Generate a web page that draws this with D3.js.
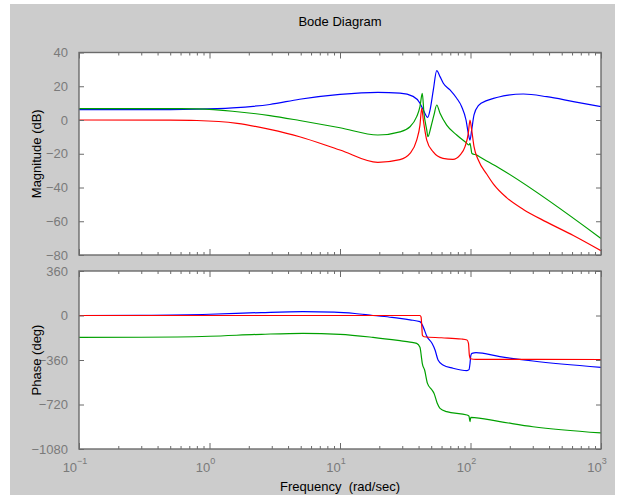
<!DOCTYPE html>
<html>
<head>
<meta charset="utf-8">
<script src="https://d3js.org/d3.v7.min.js"></script>
<style>
  body { margin: 0; background: #fff; }
  text { font-family: "Liberation Sans", Arial, Helvetica, sans-serif; }
</style>
</head>
<body>
<script>
// Bode diagram data: [frequency (rad/sec), value]
var blueMag = [[0.1, 6.2], [0.5, 6.2], [0.8, 6.4], [1.5, 7.2], [2.9, 9.2], [4.9, 12.3], [10, 15.2], [19.5, 16.4],
  [28.8, 15.9], [36.3, 14], [41, 9.9], [43.5, 5.9], [47, 1.6], [49, 6], [51.9, 17.8], [55.1, 29.3], [58.4, 25.7],
  [61.9, 21.8], [69.7, 17.8], [78.4, 12.9], [85.6, 7.9], [92.4, 0], [96.2, -7.9], [99.1, -11.9], [102.1, -5.9],
  [106.4, 3], [114.8, 8.5], [133, 11.5], [150, 12.8], [168, 13.8], [189, 14.6], [254, 15.4], [384, 13.8],
  [614, 10.9], [1000, 7.9]];

var greenMag = [[0.1, 6.8], [0.6, 6.8], [0.8, 6.6], [1.5, 5.2], [2.9, 2.6], [4.9, -0.3], [10, -4.6], [19.5, -8.9],
  [28.8, -7.0], [34.4, -4], [38.7, 2], [41, 7.9], [42.7, 15.8], [44, 4], [46.2, -5.9], [47.2, -9.9], [49.8, -4],
  [52.5, 3], [55.1, 8.9], [58.4, 4], [65.7, -3], [78.4, -8.9], [92.4, -13.4], [97.4, -14.8], [99.1, -13.8],
  [102.6, -19.8], [111.6, -20.8], [118, -21.9], [168, -28.7], [1000, -70.2]];

var redMag = [[0.1, 0], [0.5, -0.1], [0.8, -0.3], [1.63, -2], [2.9, -5.6], [4.9, -9.9], [10, -17.8], [19.5, -25.1],
  [28.8, -23.5], [34.4, -19.8], [38.7, -11.9], [41, -3], [42.3, 6.9], [43.5, 0], [46.2, -11.9], [51.6, -18.8],
  [61.5, -22.7], [73.4, -23.3], [83.1, -20.8], [90.8, -15.8], [96.2, -7.9], [99.1, 0], [102.1, -5.9],
  [106.4, -15.8], [114.8, -23.7], [133, -32], [150, -38], [189, -46], [254, -53], [384, -60.5],
  [614, -68.5], [1000, -77.5]];

var bluePhase = [[0.1, 0], [0.3, 2], [1, 10], [2.5, 24], [5.2, 31], [9, 27], [13, 16], [17.9, 0], [25, -15],
  [28.8, -23], [34.4, -35], [41, -50], [43.3, -90], [46.4, -171], [50.7, -225], [53.5, -279], [56.4, -360],
  [61.5, -400], [73.4, -427], [94, -446], [97.4, -438], [99.1, -390], [100.5, -325], [102.6, -306],
  [110.2, -301], [168, -333], [301, -368], [1000, -419]];

var greenPhase = [[0.1, -177], [0.3, -176], [1, -168], [2.5, -152], [5.2, -144], [10, -152], [17.9, -177],
  [28.8, -204], [34.4, -215], [38.7, -225], [41, -257], [42, -330], [42.7, -387], [44.5, -441], [46.8, -549],
  [50.7, -603], [52.5, -629], [55.6, -710], [58.4, -751], [65.7, -778], [94, -805], [97.4, -815], [99.1, -859],
  [100.5, -824], [168, -859], [301, -900], [1000, -950]];

var redPhase = [[0.1, 0], [41, 0], [41.8, -12], [42.3, -80], [42.8, -160], [44, -172], [60, -180], [85, -190],
  [94, -198], [96.5, -225], [98, -320], [100, -350], [110, -355], [1000, -356]];

var magTicks = [40, 20, 0, -20, -40, -60, -80];
var phaseTicks = [360, 0, -360, -720, -1080];
var decades = [0.1, 1, 10, 100, 1000];
var decadeExp = ["\u22121", "0", "1", "2", "3"];

var width = 624, height = 495;
var panelLeft = 79, panelRight = 601;

var svg = d3.select("body").append("svg")
  .attr("width", width)
  .attr("height", height);

// gray figure background
svg.append("rect")
  .attr("x", 10).attr("y", 4)
  .attr("width", 605).attr("height", 491)
  .attr("fill", "#cccccc");

var x = d3.scaleLog().domain([0.1, 1000]).range([panelLeft, panelRight]);
var yMag = d3.scaleLinear().domain([-80, 40]).range([255, 52.5]);
var yPh = d3.scaleLinear().domain([-1080, 360]).range([449, 271]);

// minor ticks 2..9 in each decade
var minors = [];
decades.slice(0, 4).forEach(function(d) {
  for (var k = 2; k <= 9; k++) minors.push(d * k);
});

function drawPanel(id, y, ticks, series) {
  var top = y.range()[1], bottom = y.range()[0];

  svg.append("rect")
    .attr("x", panelLeft).attr("y", top)
    .attr("width", panelRight - panelLeft).attr("height", bottom - top)
    .attr("fill", "#fff");

  svg.append("clipPath").attr("id", id)
    .append("rect")
    .attr("x", panelLeft).attr("y", top)
    .attr("width", panelRight - panelLeft).attr("height", bottom - top);

  var line = d3.line()
    .x(function(d) { return x(d[0]); })
    .y(function(d) { return y(d[1]); })
    .curve(d3.curveMonotoneX);

  var g = svg.append("g").attr("clip-path", "url(#" + id + ")");
  series.forEach(function(s) {
    g.append("path")
      .datum(s.data)
      .attr("d", line)
      .attr("fill", "none")
      .attr("stroke", s.color)
      .attr("stroke-width", 1.2);
  });

  // ticks on all four sides, pointing inward
  function styleAxis(sel) {
    sel.select(".domain").remove();
    sel.selectAll("line").attr("stroke", "#6b6b6b");
    sel.selectAll("text").remove();
  }
  svg.append("g").attr("transform", "translate(0," + bottom + ")")
    .call(d3.axisBottom(x).tickValues(decades).tickSize(-6)).call(styleAxis);
  svg.append("g").attr("transform", "translate(0," + bottom + ")")
    .call(d3.axisBottom(x).tickValues(minors).tickSize(-3)).call(styleAxis);
  svg.append("g").attr("transform", "translate(0," + top + ")")
    .call(d3.axisTop(x).tickValues(decades).tickSize(-6)).call(styleAxis);
  svg.append("g").attr("transform", "translate(0," + top + ")")
    .call(d3.axisTop(x).tickValues(minors).tickSize(-3)).call(styleAxis);
  svg.append("g").attr("transform", "translate(" + panelRight + ",0)")
    .call(d3.axisRight(y).tickValues(ticks).tickSize(-5)).call(styleAxis);

  var yAxis = svg.append("g").attr("transform", "translate(" + panelLeft + ",0)")
    .call(d3.axisLeft(y).tickValues(ticks).tickFormat(d3.format("d")).tickSize(-5).tickPadding(11));
  yAxis.select(".domain").remove();
  yAxis.selectAll("line").attr("stroke", "#6b6b6b");
  yAxis.selectAll("text")
    .attr("fill", "#7a7a7a")
    .style("font-size", "13px")
    .style("font-family", "Liberation Sans, Arial, sans-serif");

  // box
  svg.append("rect")
    .attr("x", panelLeft).attr("y", top)
    .attr("width", panelRight - panelLeft).attr("height", bottom - top)
    .attr("fill", "none")
    .attr("stroke", "#6b6b6b")
    .attr("stroke-width", 1.4);
}

drawPanel("clipMag", yMag, magTicks, [
  {data: blueMag, color: "#0000ff"},
  {data: greenMag, color: "#00a000"},
  {data: redMag, color: "#ff0000"}
]);

drawPanel("clipPh", yPh, phaseTicks, [
  {data: bluePhase, color: "#0000ff"},
  {data: greenPhase, color: "#00a000"},
  {data: redPhase, color: "#ff0000"}
]);

// x tick labels: 10 with exponent
var xl = svg.append("g").selectAll("text")
  .data(decades)
  .enter().append("text")
  .attr("x", function(d) { return x(d) - 4; })
  .attr("y", 472)
  .attr("text-anchor", "middle")
  .attr("fill", "#7a7a7a")
  .style("font-size", "13px")
  .text("10");
xl.append("tspan")
  .attr("dy", -8)
  .style("font-size", "9px")
  .text(function(d, i) { return decadeExp[i]; });

// title and axis labels
svg.append("text")
  .attr("x", 340).attr("y", 26)
  .attr("text-anchor", "middle")
  .style("font-size", "13px")
  .text("Bode Diagram");

svg.append("text")
  .attr("x", 340).attr("y", 491)
  .attr("text-anchor", "middle")
  .style("font-size", "13px")
  .attr("xml:space", "preserve")
  .text("Frequency  (rad/sec)");

svg.append("text")
  .attr("transform", "translate(41," + ((yMag.range()[0] + yMag.range()[1]) / 2) + ") rotate(-90)")
  .attr("text-anchor", "middle")
  .style("font-size", "13px")
  .text("Magnitude (dB)");

svg.append("text")
  .attr("transform", "translate(41," + ((yPh.range()[0] + yPh.range()[1]) / 2) + ") rotate(-90)")
  .attr("text-anchor", "middle")
  .style("font-size", "13px")
  .text("Phase (deg)");
</script>
</body>
</html>
